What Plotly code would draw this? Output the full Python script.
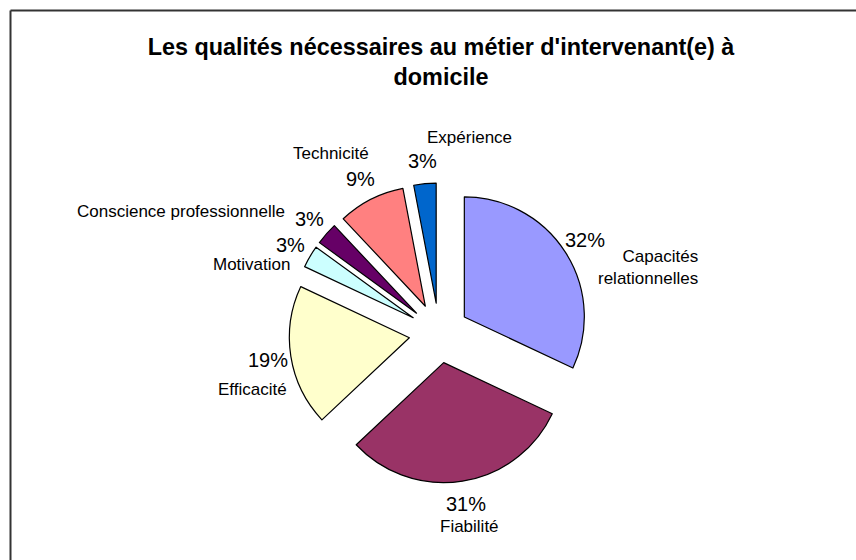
import math
import plotly.graph_objects as go

# Data
labels = ['Capacités relationnelles', 'Fiabilité', 'Efficacité', 'Motivation',
          'Conscience professionnelle', 'Technicité', 'Expérience']
values = [32, 31, 19, 3, 3, 9, 3]
display_names = ['Capacités<br>relationnelles', 'Fiabilité', 'Efficacité', 'Motivation',
                 'Conscience professionnelle', 'Technicité', 'Expérience']
colors = ['#9999FF', '#993366', '#FFFFCC', '#CCFFFF', '#660066', '#FF8080', '#0066CC']

# Where each category name sits relative to its percentage label (px, Excel-like layout)
name_offsets = [(63, 27), (3, 23), (-16, 29), (-39, 19), (-128, -7), (-30, -26), (47, -23)]

W, H = 856, 560
margin = dict(l=289, r=267, t=183, b=77)
plot_w = W - margin['l'] - margin['r']
plot_h = H - margin['t'] - margin['b']
pull = 0.25

fig = go.Figure(go.Pie(
    labels=labels,
    values=values,
    textinfo='none',
    sort=False,
    direction='clockwise',
    rotation=0,
    pull=[pull] * len(values),
    marker=dict(colors=colors, line=dict(color='black', width=1.2)),
    hoverinfo='label+percent',
))


def px_x(px):
    return (px - margin['l']) / plot_w


def px_y(py):
    return (H - margin['b'] - py) / plot_h


# Pie geometry as plotly lays it out
cx = margin['l'] + plot_w / 2
cy = margin['t'] + plot_h / 2
radius = min(plot_w, plot_h) / 2 / (1 + pull)
label_r = radius * 1.44

font = 'Arial, Liberation Sans'
total = sum(values)
cum = 0
for name, v, (dx, dy) in zip(display_names, values, name_offsets):
    mid = (cum + v / 2) / total * 2 * math.pi
    cum += v
    px = cx + label_r * math.sin(mid)
    py = cy - label_r * math.cos(mid)
    fig.add_annotation(x=px_x(px), y=px_y(py), xref='paper', yref='paper',
                       xanchor='center', yanchor='middle',
                       text=f'{round(v / total * 100)}%', showarrow=False,
                       font=dict(family=font, size=20, color='black'))
    fig.add_annotation(x=px_x(px), y=px_y(py), xref='paper', yref='paper',
                       xanchor='center', yanchor='middle',
                       xshift=dx, yshift=-dy,
                       text=name, showarrow=False, align='right',
                       font=dict(family=font, size=17, color='black'))

# Outer frame of the chart area (left and top edges visible)
fig.add_shape(type='line', xref='paper', yref='paper',
              x0=px_x(10.5), x1=px_x(10.5), y0=px_y(10.5), y1=px_y(H),
              line=dict(color='#333333', width=2))
fig.add_shape(type='line', xref='paper', yref='paper',
              x0=px_x(10.5), x1=px_x(W), y0=px_y(10.5), y1=px_y(10.5),
              line=dict(color='#333333', width=2))

fig.update_layout(
    width=W, height=H,
    margin=margin,
    showlegend=False,
    paper_bgcolor='white',
    plot_bgcolor='white',
    title=dict(
        text="Les qualités nécessaires au métier d'intervenant(e) à<br>domicile",
        xref='container', yref='container',
        x=441 / W, xanchor='center',
        y=1 - 55 / H, yanchor='top',
        font=dict(family=font, size=23.4, color='black', weight='bold'),
    ),
)

fig.write_html("out.html", config={'displayModeBar': False},
               post_script="document.body.style.margin='0';document.body.style.overflow='hidden';")
